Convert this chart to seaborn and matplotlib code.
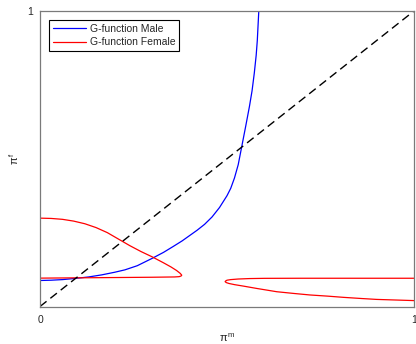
import matplotlib
matplotlib.use('Agg')
import matplotlib.pyplot as plt
import seaborn as sns
import pandas as pd

# --- data ---
male_x = [0.0, 0.03, 0.06, 0.094, 0.13, 0.165, 0.20, 0.227, 0.26, 0.30, 0.33, 0.356,
          0.38, 0.40, 0.42, 0.44, 0.46, 0.48, 0.50, 0.51, 0.52, 0.53, 0.54, 0.55,
          0.56, 0.567, 0.573, 0.578, 0.581, 0.583, 0.585]
male_y = [0.088, 0.089, 0.091, 0.095, 0.100, 0.107, 0.116, 0.124, 0.138, 0.163, 0.183, 0.203,
          0.222, 0.240, 0.258, 0.278, 0.303, 0.335, 0.375, 0.40, 0.435, 0.48, 0.545, 0.61,
          0.677, 0.73, 0.79, 0.85, 0.90, 0.95, 1.0]

# female branch near the origin (upper arm out to the fold, lower arm back)
fem1_x = [0.0, 0.03, 0.06, 0.09, 0.12, 0.15, 0.18, 0.21, 0.24, 0.27, 0.30, 0.33, 0.35,
          0.365, 0.375, 0.379, 0.377, 0.372, 0.36, 0.30, 0.20, 0.10, 0.0]
fem1_y = [0.299, 0.298, 0.295, 0.289, 0.280, 0.267, 0.250, 0.228, 0.206, 0.186, 0.168, 0.148, 0.134,
          0.122, 0.112, 0.106, 0.103, 0.101, 0.100, 0.099, 0.098, 0.097, 0.096]

# female branch on the right (upper arm in to the fold, lower arm back out)
fem2_x = [1.0, 0.7, 0.6, 0.56, 0.53, 0.51, 0.50, 0.496, 0.495, 0.498, 0.505, 0.52, 0.544,
          0.58, 0.633, 0.68, 0.722, 0.77, 0.811, 0.86, 0.90, 0.95, 1.0]
fem2_y = [0.0956, 0.0956, 0.0953, 0.0945, 0.093, 0.091, 0.089, 0.086, 0.084, 0.081, 0.078, 0.074, 0.069,
          0.061, 0.050, 0.044, 0.039, 0.035, 0.031, 0.027, 0.024, 0.022, 0.020]

diag = [0.0, 1.0]

sns.set_theme(style='white')
plt.rcParams['font.family'] = ['Liberation Sans', 'DejaVu Sans']
plt.rcParams['mathtext.fontset'] = 'custom'
plt.rcParams['mathtext.rm'] = 'Liberation Sans'
plt.rcParams['mathtext.it'] = 'Liberation Sans'
plt.rcParams['mathtext.sf'] = 'Liberation Sans'

fig = plt.figure(figsize=(4.16, 3.44), dpi=100)
ax = fig.add_axes([40 / 416, 1 - 306.5 / 344, 374 / 416, 295.5 / 344])

male = pd.DataFrame({'x': male_x, 'y': male_y})
fem1 = pd.DataFrame({'x': fem1_x, 'y': fem1_y})
fem2 = pd.DataFrame({'x': fem2_x, 'y': fem2_y})

sns.lineplot(data=male, x='x', y='y', sort=False, estimator=None, color='#0000ff',
             lw=0.9, ax=ax, label='G-function Male')
sns.lineplot(data=fem1, x='x', y='y', sort=False, estimator=None, color='#ff0000',
             lw=0.9, ax=ax, label='G-function Female')
sns.lineplot(data=fem2, x='x', y='y', sort=False, estimator=None, color='#ff0000',
             lw=0.9, ax=ax)
ax.plot(diag, diag, color='black', lw=1.0, dashes=(6, 3.5))

ax.set_xlim(0, 1)
ax.set_ylim(0, 1)
ax.set_xticks([0, 1])
ax.set_xticklabels(['0', '1'])
ax.set_yticks([1])
ax.set_yticklabels(['1'])
ax.tick_params(length=0, labelsize=7.5, colors='#262626', pad=6)
ax.tick_params(axis='y', pad=5)

for sp in ax.spines.values():
    sp.set_visible(True)
    sp.set_color('#7a7a7a')
    sp.set_linewidth(0.9)

ax.set_xlabel(r'$\pi^{m}$', fontsize=8, color='#262626', labelpad=5)
ax.set_ylabel(r'$\pi^{f}$', fontsize=8, color='#262626')
ax.yaxis.set_label_coords(-0.05, 0.5)

leg = ax.legend(loc='upper left', bbox_to_anchor=(0.024, 0.968), borderaxespad=0,
                fontsize=7.5, handlelength=3.2, handletextpad=0.4, labelspacing=0.3,
                borderpad=0.35, fancybox=False, framealpha=1)
leg.get_frame().set_edgecolor('black')
leg.get_frame().set_linewidth(0.8)

fig.savefig('out.png', dpi=100)
